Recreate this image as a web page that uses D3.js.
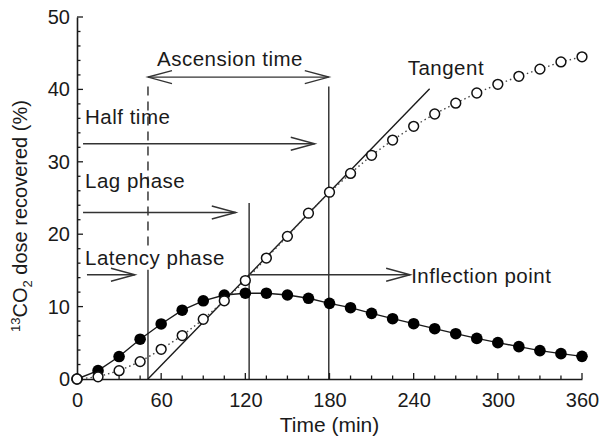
<!DOCTYPE html>
<html><head><meta charset="utf-8">
<script src="https://cdn.jsdelivr.net/npm/d3@7"></script>
<style>body{margin:0;background:#fff}svg{display:block}text{font-family:"Liberation Sans",Arial,Helvetica,sans-serif;fill:#1a1a1a}</style>
</head><body>
<svg id="c" width="599" height="446"></svg>
<script>
// ---- data ----
const times = [0,15,30,45,60,75,90,105,120,135,150,165,180,195,210,225,240,255,270,285,300,315,330,345,360];
const cumulative = [0,0.3,1.15,2.4,4.1,6.0,8.25,10.8,13.6,16.7,19.7,22.9,25.8,28.4,30.9,33.0,34.9,36.6,38.1,39.5,40.7,41.8,42.8,43.8,44.5];
const rate = [0,1.15,3.1,5.5,7.6,9.5,10.8,11.6,11.85,11.85,11.6,11.15,10.45,9.85,9.07,8.33,7.64,6.95,6.26,5.61,5.02,4.47,3.92,3.5,3.13];
const xTicks = [0,60,120,180,240,300,360];
const yTicks = [0,10,20,30,40,50];
// tangent line (data units)
const tangent = [[50.6,0],[251.4,40.1]];
// vertical markers: [t, yFrom, yTo, dashed]
const verticals = [[50.6,40.4,17.8,true],[50.6,15.1,0,false],[122.7,24.3,0,false],[179.5,40.4,0,false]];
// arrows: [x1, x2, y, startHead, endHead]
const arrows = [[50.6,179.5,41.7,true,true],[4.3,169.5,32.5,false,true],[4.3,113.2,23.0,false,true],[7.1,41.3,14.4,false,true],[122.7,237.5,14.4,false,true]];
// labels: [text, t, y]
const labels = [["Ascension time",57,43.25],["Tangent",235.7,42.0],["Half time",5.7,35.2],["Lag phase",5.7,26.4],["Latency phase",5.7,15.75],["Inflection point",238.2,13.3]];

// ---- chart ----
const svg = d3.select("#c");
const x = d3.scaleLinear().domain([0,360]).range([77,582]);
const y = d3.scaleLinear().domain([0,50]).range([379,17]);
const ink = "#1a1a1a";
const FT = 20, FA = 20.5;

// axes
const xAxis = d3.axisBottom(x).tickValues(xTicks).tickSize(0).tickPadding(14);
const gx = svg.append("g").attr("transform",`translate(0,${y(0)})`).call(xAxis);
gx.select(".domain").attr("stroke",ink).attr("stroke-width",1.6);
gx.selectAll("text").attr("font-size",FT).attr("fill",ink);
const yAxis = d3.axisLeft(y).tickValues(yTicks).tickSize(0).tickPadding(7);
const gy = svg.append("g").attr("transform",`translate(${x(0)},0)`).call(yAxis);
gy.select(".domain").attr("stroke",ink).attr("stroke-width",1.6);
gy.selectAll("text").attr("font-size",FT).attr("fill",ink);
gx.attr("font-family",null); gy.attr("font-family",null);

// inward ticks
const xMinor = d3.range(0,361,15);
svg.append("g").selectAll("line").data(xMinor).join("line")
  .attr("x1",d=>x(d)).attr("x2",d=>x(d))
  .attr("y1",y(0)).attr("y2",d=>y(0)-(d%60===0?6:3.5))
  .attr("stroke",ink).attr("stroke-width",1.3);
const yMinor = d3.range(0,51,2);
svg.append("g").selectAll("line").data(yMinor).join("line")
  .attr("y1",d=>y(d)).attr("y2",d=>y(d))
  .attr("x1",x(0)).attr("x2",d=>x(0)+(d%10===0?6:3.5))
  .attr("stroke",ink).attr("stroke-width",1.3);

// axis titles
svg.append("text").attr("x",(x(0)+x(360))/2).attr("y",432).attr("text-anchor","middle")
  .attr("font-size",21).text("Time (min)");
const yt = svg.append("text").attr("transform","translate(27,216) rotate(-90)").attr("text-anchor","middle").attr("font-size",20);
yt.append("tspan").attr("font-size",13).attr("dy",-7).text("13");
yt.append("tspan").attr("dy",7).text("CO");
yt.append("tspan").attr("font-size",13).attr("dy",5).text("2");
yt.append("tspan").attr("dy",-5).text(" dose recovered (%)");

// verticals
svg.append("g").selectAll("line").data(verticals).join("line")
  .attr("x1",d=>x(d[0])).attr("x2",d=>x(d[0]))
  .attr("y1",d=>y(d[1])).attr("y2",d=>y(d[2]))
  .attr("stroke",ink).attr("stroke-width",1.3)
  .attr("stroke-dasharray",d=>d[3]?"9,6":null);

// tangent
svg.append("path").datum(tangent).attr("d",d3.line().x(d=>x(d[0])).y(d=>y(d[1])))
  .attr("fill","none").attr("stroke",ink).attr("stroke-width",1.4);

// arrows
const ag = svg.append("g").attr("stroke","#333").attr("fill","none").attr("stroke-width",1.4);
arrows.forEach(a=>{
  const x1=x(a[0]), x2=x(a[1]), yy=y(a[2]);
  ag.append("line").attr("x1",x1).attr("x2",x2).attr("y1",yy).attr("y2",yy);
  const L=24,H=6.5;
  if(a[4]) ag.append("path").attr("d",`M${x2-L},${yy-H}L${x2},${yy}L${x2-L},${yy+H}`);
  if(a[3]) ag.append("path").attr("d",`M${x1+L},${yy-H}L${x1},${yy}L${x1+L},${yy+H}`);
});

// labels
svg.append("g").selectAll("text").data(labels).join("text")
  .attr("x",d=>x(d[1])).attr("y",d=>y(d[2])).attr("font-size",FA).attr("letter-spacing",0.5).text(d=>d[0]);

// series
const rateData = times.map((t,i)=>[t,rate[i]]);
const cumData = times.map((t,i)=>[t,cumulative[i]]);
const line = d3.line().x(d=>x(d[0])).y(d=>y(d[1]));
svg.append("path").datum(rateData).attr("d",line).attr("fill","none").attr("stroke",ink).attr("stroke-width",1.4);
svg.append("path").datum(cumData).attr("d",line).attr("fill","none").attr("stroke","#444").attr("stroke-width",1.4).attr("stroke-dasharray","1.5,3");
svg.append("g").selectAll("circle").data(rateData).join("circle")
  .attr("cx",d=>x(d[0])).attr("cy",d=>y(d[1])).attr("r",5.8).attr("fill","#000");
svg.append("g").selectAll("circle").data(cumData).join("circle")
  .attr("cx",d=>x(d[0])).attr("cy",d=>y(d[1])).attr("r",4.9).attr("fill","#fff").attr("stroke","#111").attr("stroke-width",1.5);
</script>
</body></html>
